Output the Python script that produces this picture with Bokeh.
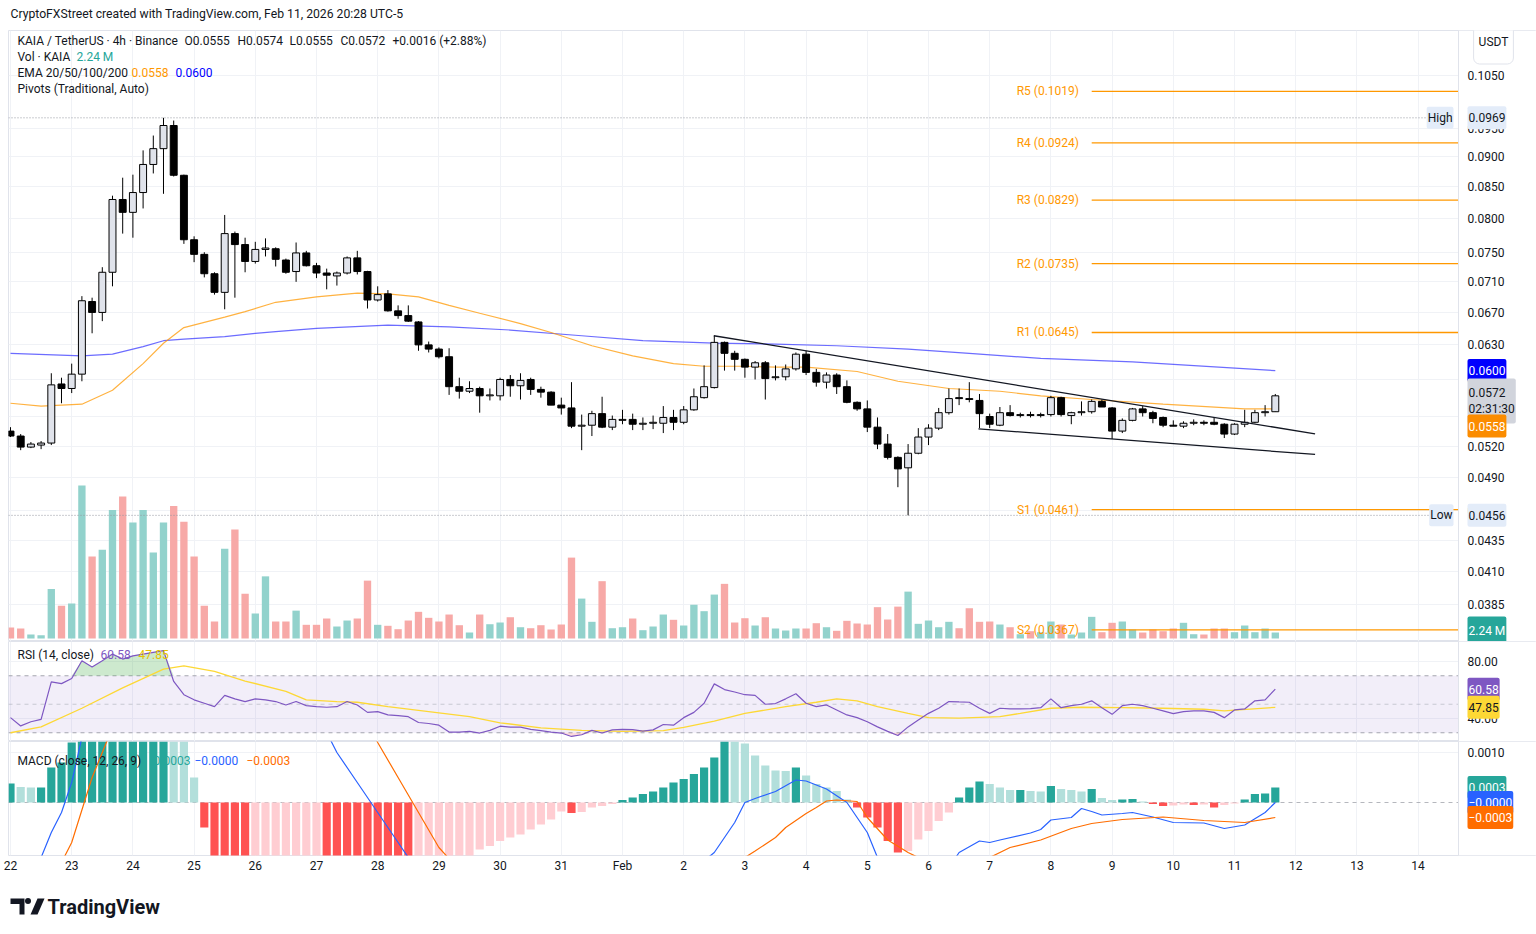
import math
from bokeh.plotting import figure
from bokeh.layouts import column
from bokeh.models import (Range1d, LinearScale, FixedTicker, Label, Span, BoxAnnotation)
from bokeh.embed import file_html
from bokeh.resources import INLINE
from bokeh.core.properties import value

FONT = "Roboto"
TXT = "#131722"

# ---------------- data ----------------
bar_index = list(range(125))
opens = [
    0.0535, 0.0530, 0.0519, 0.0521, 0.0523, 0.0585, 0.0580, 0.0596, 0.0684, 0.0670,
    0.0723, 0.0830, 0.0810, 0.0841, 0.0887, 0.0914, 0.0955, 0.0869, 0.0769, 0.0748,
    0.0721, 0.0696, 0.0778, 0.0762, 0.0738, 0.0755, 0.0756, 0.0740, 0.0724, 0.0750,
    0.0732, 0.0722, 0.0718, 0.0722, 0.0743, 0.0724, 0.0686, 0.0694, 0.0672, 0.0666,
    0.0658, 0.0630, 0.0625, 0.0616, 0.0582, 0.0577, 0.0580, 0.0572, 0.0572, 0.0590,
    0.0583, 0.0590, 0.0579, 0.0576, 0.0562, 0.0559, 0.0540, 0.0541, 0.0553, 0.0539,
    0.0546, 0.0547, 0.0542, 0.0543, 0.0543, 0.0549, 0.0544, 0.0557, 0.0570, 0.0581,
    0.0633, 0.0620, 0.0613, 0.0604, 0.0609, 0.0592, 0.0593, 0.0602, 0.0619, 0.0598,
    0.0587, 0.0595, 0.0582, 0.0565, 0.0558, 0.0539, 0.0522, 0.0509, 0.0499, 0.0513,
    0.0529, 0.0538, 0.0554, 0.0570, 0.0569, 0.0567, 0.0550, 0.0541, 0.0554, 0.0551,
    0.0552, 0.0551, 0.0552, 0.0570, 0.0551, 0.0554, 0.0555, 0.0566, 0.0559, 0.0535,
    0.0546, 0.0558, 0.0554, 0.0549, 0.0541, 0.0540, 0.0543, 0.0544, 0.0544, 0.0542,
    0.0532, 0.0542, 0.0544, 0.0554, 0.0555]
highs = [
    0.0539, 0.0532, 0.0524, 0.0525, 0.0597, 0.0592, 0.0608, 0.0691, 0.0689, 0.0730,
    0.0836, 0.0865, 0.0870, 0.0911, 0.0937, 0.0969, 0.0964, 0.0870, 0.0774, 0.0751,
    0.0723, 0.0806, 0.0781, 0.0772, 0.0766, 0.0771, 0.0758, 0.0742, 0.0765, 0.0753,
    0.0736, 0.0728, 0.0724, 0.0745, 0.0753, 0.0725, 0.0704, 0.0699, 0.0679, 0.0679,
    0.0659, 0.0634, 0.0627, 0.0626, 0.0592, 0.0588, 0.0582, 0.0580, 0.0592, 0.0595,
    0.0597, 0.0592, 0.0582, 0.0577, 0.0570, 0.0587, 0.0552, 0.0556, 0.0571, 0.0551,
    0.0557, 0.0553, 0.0549, 0.0551, 0.0561, 0.0557, 0.0561, 0.0580, 0.0606, 0.0641,
    0.0634, 0.0623, 0.0614, 0.0611, 0.0611, 0.0606, 0.0607, 0.0621, 0.0623, 0.0602,
    0.0598, 0.0597, 0.0589, 0.0566, 0.0567, 0.0549, 0.0532, 0.0510, 0.0522, 0.0538,
    0.0542, 0.0559, 0.0580, 0.0580, 0.0587, 0.0574, 0.0553, 0.0560, 0.0562, 0.0554,
    0.0555, 0.0554, 0.0572, 0.0571, 0.0555, 0.0566, 0.0568, 0.0568, 0.0560, 0.0548,
    0.0559, 0.0561, 0.0556, 0.0550, 0.0546, 0.0545, 0.0547, 0.0546, 0.0549, 0.0543,
    0.0543, 0.0557, 0.0557, 0.0562, 0.0574]
lows = [
    0.0529, 0.0516, 0.0518, 0.0517, 0.0521, 0.0564, 0.0575, 0.0588, 0.0644, 0.0659,
    0.0704, 0.0778, 0.0772, 0.0816, 0.0872, 0.0839, 0.0867, 0.0763, 0.0737, 0.0716,
    0.0693, 0.0674, 0.0689, 0.0723, 0.0735, 0.0745, 0.0731, 0.0721, 0.0710, 0.0731,
    0.0715, 0.0700, 0.0705, 0.0720, 0.0720, 0.0675, 0.0684, 0.0671, 0.0662, 0.0658,
    0.0623, 0.0621, 0.0614, 0.0573, 0.0569, 0.0575, 0.0554, 0.0567, 0.0567, 0.0571,
    0.0568, 0.0573, 0.0570, 0.0562, 0.0552, 0.0538, 0.0516, 0.0530, 0.0538, 0.0536,
    0.0542, 0.0536, 0.0536, 0.0537, 0.0533, 0.0536, 0.0542, 0.0556, 0.0569, 0.0580,
    0.0600, 0.0600, 0.0592, 0.0590, 0.0568, 0.0589, 0.0589, 0.0600, 0.0595, 0.0582,
    0.0580, 0.0574, 0.0564, 0.0556, 0.0534, 0.0517, 0.0507, 0.0481, 0.0456, 0.0512,
    0.0521, 0.0536, 0.0552, 0.0562, 0.0565, 0.0538, 0.0538, 0.0540, 0.0550, 0.0549,
    0.0549, 0.0549, 0.0550, 0.0550, 0.0542, 0.0551, 0.0553, 0.0560, 0.0527, 0.0533,
    0.0545, 0.0550, 0.0543, 0.0539, 0.0540, 0.0538, 0.0541, 0.0541, 0.0541, 0.0528,
    0.0531, 0.0539, 0.0543, 0.0550, 0.0555]
closes = [
    0.0530, 0.0519, 0.0522, 0.0523, 0.0584, 0.0580, 0.0596, 0.0685, 0.0670, 0.0723,
    0.0830, 0.0810, 0.0841, 0.0887, 0.0914, 0.0955, 0.0869, 0.0769, 0.0748, 0.0721,
    0.0696, 0.0778, 0.0762, 0.0738, 0.0755, 0.0757, 0.0741, 0.0723, 0.0750, 0.0732,
    0.0722, 0.0719, 0.0722, 0.0743, 0.0724, 0.0686, 0.0693, 0.0672, 0.0666, 0.0659,
    0.0630, 0.0625, 0.0616, 0.0582, 0.0577, 0.0580, 0.0572, 0.0573, 0.0590, 0.0583,
    0.0589, 0.0579, 0.0576, 0.0562, 0.0559, 0.0540, 0.0541, 0.0553, 0.0539, 0.0547,
    0.0547, 0.0542, 0.0543, 0.0544, 0.0549, 0.0544, 0.0557, 0.0571, 0.0582, 0.0633,
    0.0620, 0.0613, 0.0604, 0.0609, 0.0591, 0.0593, 0.0602, 0.0619, 0.0598, 0.0587,
    0.0595, 0.0582, 0.0565, 0.0558, 0.0539, 0.0522, 0.0509, 0.0498, 0.0513, 0.0529,
    0.0538, 0.0554, 0.0569, 0.0569, 0.0568, 0.0553, 0.0542, 0.0554, 0.0551, 0.0552,
    0.0551, 0.0552, 0.0570, 0.0552, 0.0554, 0.0555, 0.0566, 0.0560, 0.0535, 0.0546,
    0.0558, 0.0554, 0.0548, 0.0541, 0.0540, 0.0543, 0.0544, 0.0543, 0.0542, 0.0532,
    0.0542, 0.0544, 0.0554, 0.0555, 0.0572]
volume_m = [
    4.10, 3.73, 1.49, 1.23, 18.5, 12.2, 13.1, 57.1, 30.6, 33.1,
    48.0, 53.0, 43.3, 48.0, 32.1, 43.3, 49.5, 43.6, 30.6, 12.2,
    6.34, 33.5, 40.7, 16.7, 9.33, 23.2, 6.34, 6.34, 10.4, 5.11,
    5.11, 7.46, 4.48, 6.71, 7.46, 21.6, 5.11, 4.74, 3.47, 6.71,
    9.96, 7.72, 6.34, 8.95, 4.96, 2.24, 8.95, 5.33, 5.97, 7.94,
    4.21, 3.84, 4.96, 3.36, 5.22, 30.2, 14.9, 6.23, 21.4, 3.84,
    4.21, 7.46, 3.10, 4.48, 8.95, 6.98, 4.85, 12.6, 10.2, 16.4,
    20.4, 5.97, 7.57, 4.85, 7.94, 3.73, 2.98, 3.73, 3.73, 5.71,
    4.21, 2.87, 6.60, 5.60, 5.22, 11.7, 7.09, 11.9, 17.5, 5.48,
    6.71, 4.21, 6.23, 3.84, 11.3, 6.23, 6.34, 5.22, 4.21, 1.60,
    2.72, 2.35, 6.34, 5.22, 1.49, 2.24, 8.09, 2.35, 5.86, 6.34,
    3.36, 2.24, 3.36, 2.72, 3.73, 5.86, 1.60, 1.49, 3.73, 3.73,
    2.35, 4.85, 2.35, 3.73, 2.24]

ema50_idx = [0, 3, 7, 10, 13, 15, 17, 21, 23, 26, 30, 34, 37, 40, 43, 46, 50, 53, 57,
             61, 65, 68, 72, 75, 78, 83, 87, 92, 97, 101, 106, 113, 121, 124]
ema50 = [0.0564, 0.0561, 0.0563, 0.0578, 0.0608, 0.0632, 0.0651, 0.0664, 0.0671, 0.0683,
         0.0690, 0.0695, 0.0694, 0.0690, 0.0679, 0.0669, 0.0656, 0.0645, 0.0629, 0.0617,
         0.0608, 0.0605, 0.0605, 0.0604, 0.0604, 0.0599, 0.0588, 0.0580, 0.0577, 0.0572,
         0.0568, 0.0563, 0.0558, 0.0558]
ema200_idx = [0, 7, 10, 13, 15, 17, 21, 24, 26, 30, 37, 43, 49, 56, 62, 69, 75, 81, 88,
              94, 101, 110, 124]
ema200 = [0.0620, 0.0617, 0.0619, 0.0628, 0.0635, 0.0637, 0.0640, 0.0644, 0.0646, 0.0650,
          0.0654, 0.0652, 0.0648, 0.0641, 0.0635, 0.0632, 0.0631, 0.0629, 0.0625, 0.0620,
          0.0614, 0.0610, 0.0600]

pivot_names = ["R5", "R4", "R3", "R2", "R1", "S1", "S2"]
pivot_values = [0.1019, 0.0924, 0.0829, 0.0735, 0.0645, 0.0461, 0.0367]
pivot_start = 106
high_value = 0.0969
low_value = 0.0456
last_close = 0.0572
ema50_last = 0.0558
ema200_last = 0.0600
vol_last = 2.24
trend_upper_x = [68.95, 127.9]
trend_upper_y = [0.0641, 0.05322]
trend_lower_x = [94.9, 127.9]
trend_lower_y = [0.05373, 0.05118]

rsi = [40.6, 34.8, 37.7, 39.4, 65.7, 64.5, 68.1, 80.5, 76.2, 80.5,
       85.2, 81.7, 84.0, 85.2, 86.4, 87.6, 66.0, 56.7, 53.1, 50.7,
       48.3, 56.2, 53.8, 51.9, 53.8, 53.1, 51.9, 49.5, 51.9, 49.0,
       48.3, 47.9, 48.3, 51.9, 49.5, 44.3, 44.8, 42.5, 42.0, 41.3,
       37.2, 36.5, 35.3, 30.5, 30.5, 31.0, 29.8, 31.7, 34.6, 33.9,
       33.9, 32.4, 31.5, 30.5, 29.8, 27.4, 28.6, 31.7, 29.8, 32.0,
       32.4, 32.2, 31.2, 32.0, 35.8, 35.3, 40.6, 44.3, 50.7, 64.3,
       60.3, 58.6, 56.7, 56.2, 50.0, 50.5, 53.8, 57.4, 50.7, 48.3,
       49.5, 46.0, 42.5, 40.6, 37.7, 34.1, 31.0, 28.1, 34.1, 38.9,
       43.6, 47.2, 51.9, 51.6, 51.4, 47.2, 43.6, 47.2, 46.7, 46.7,
       47.0, 47.6, 53.8, 47.6, 49.0, 50.0, 52.4, 47.6, 42.9, 49.0,
       50.0, 49.0, 47.2, 45.3, 43.4, 44.8, 45.3, 45.3, 44.3, 40.6,
       46.0, 46.7, 52.4, 53.1, 60.58]
rsi_ma_idx = [0, 3, 7, 11, 15, 17, 20, 23, 27, 29, 32, 34, 37, 41, 45, 48, 52, 56, 60, 64,
              66, 69, 72, 76, 79, 81, 83, 85, 88, 90, 93, 97, 99, 102, 105, 109, 113, 117,
              119, 124]
rsi_ma = [30.0, 34.1, 47.2, 61.5, 74.6, 77.0, 73.0, 66.3, 59.1, 53.1, 51.9, 51.4, 48.3,
          44.8, 41.3, 37.0, 33.4, 31.7, 31.0, 31.5, 33.7, 38.2, 43.6, 48.3, 51.4, 53.8,
          52.4, 48.3, 43.6, 40.6, 40.3, 41.3, 43.6, 47.2, 47.9, 47.6, 47.2, 46.5, 45.3, 47.85]

macd_idx = [0, 2, 3, 4, 5, 6, 7, 9, 11, 15, 20, 26, 30, 32, 34, 36, 38, 39, 42, 48, 55, 62,
            66, 69, 70, 71, 72, 73, 75, 77, 78, 80, 82, 83, 84, 85, 87, 90, 92, 93, 95, 96,
            97, 100, 101, 102, 104, 105, 106, 107, 109, 110, 112, 114, 117, 119, 121, 123, 124]
macd = [-0.0016, -0.0015, -0.0011, -0.0006, -0.0002, 0.0004, 0.0013, 0.0024, 0.0040, 0.0062,
        0.0058, 0.0036, 0.0018, 0.0010, 0.0004, -0.0002, -0.0008, -0.0011, -0.0020, -0.0030,
        -0.0031, -0.0022, -0.0015, -0.0010, -0.0007, -0.0004, 0.0, 0.00008, 0.00022, 0.00045,
        0.00043, 0.00027, 0.0, -0.0003, -0.0006, -0.0011, -0.0016, -0.0017, -0.0013, -0.0010,
        -0.00077, -0.00080, -0.00075, -0.00061, -0.00054, -0.00035, -0.00030, -0.00012,
        -0.00018, -0.00025, -0.00022, -0.00020, -0.00029, -0.00040, -0.00041, -0.00052,
        -0.00045, -0.00020, 0.0]
signal_idx = [0, 3, 5, 6, 8, 9, 10, 12, 16, 22, 28, 33, 36, 38, 40, 42, 46, 55, 62, 68, 72,
              73, 75, 76, 78, 79, 80, 81, 83, 84, 86, 88, 90, 93, 96, 98, 101, 104, 106, 109,
              113, 117, 121, 124]
signal = [-0.0030, -0.0022, -0.0012, -0.0008, 0.0005, 0.0010, 0.0015, 0.0024, 0.0040, 0.0048,
          0.0040, 0.0024, 0.0012, 0.0005, -0.0002, -0.0009, -0.0018, -0.0028, -0.0025, -0.0017,
          -0.0011, -0.00097, -0.0007, -0.0005, -0.00022, -0.0001, 0.00003, 0.00005, 0.00002,
          -0.0003, -0.00075, -0.0010, -0.0012, -0.0012, -0.0011, -0.0009, -0.00075, -0.00052,
          -0.00042, -0.00034, -0.00029, -0.00036, -0.00040, -0.00030]
hist = [0.00038, 0.00031, 0.00030, 0.00030, 0.00070, 0.00080, 0.0012, 0.0016, 0.0019, 0.0022,
        0.0026, 0.0028, 0.0030, 0.0032, 0.0034, 0.0035, 0.0028, 0.0015, 0.0005, -0.0005,
        -0.0013, -0.0019, -0.0024, -0.0028, -0.0027, -0.0026, -0.0025, -0.0024, -0.0023, -0.0022,
        -0.0021, -0.0023, -0.0025, -0.0027, -0.0029, -0.0031, -0.0033, -0.0034, -0.0035, -0.0036,
        -0.0033, -0.0029, -0.0025, -0.0020, -0.0016, -0.0012, -0.00094, -0.00087, -0.00077, -0.00070,
        -0.00064, -0.00054, -0.00044, -0.00034, -0.00018, -0.00021, -0.00019, -0.00010, -0.00007, -0.00003,
        0.00005, 0.00010, 0.00017, 0.00022, 0.00030, 0.00040, 0.00047, 0.00057, 0.00070, 0.00090,
        0.00125, 0.00122, 0.00118, 0.00094, 0.00074, 0.00064, 0.00063, 0.00070, 0.00054, 0.00037,
        0.00030, 0.00023, 0.00006, -0.00010, -0.00030, -0.00050, -0.00077, -0.00100, -0.00097, -0.00074,
        -0.00057, -0.00037, -0.00020, 0.00010, 0.00030, 0.00042, 0.00037, 0.00030, 0.00025, 0.00025,
        0.00023, 0.00022, 0.00033, 0.00027, 0.00025, 0.00022, 0.00027, 0.00009, 0.00005, 0.00006,
        0.00007, 0.00002, -0.00003, -0.00007, -0.00006, -0.00004, -0.00005, -0.00004, -0.00010, -0.00005,
        -0.00002, 0.00006, 0.00017, 0.00018, 0.00030]
rsi_last = 60.58
rsi_ma_last = 47.85
macd_last_hist = 0.0003
macd_last = 0.0
signal_last = -0.0003

day_ticks = list(range(0, 139, 6))
day_labels = ["22", "23", "24", "25", "26", "27", "28", "29", "30", "31", "Feb", "2", "3",
              "4", "5", "6", "7", "8", "9", "10", "11", "12", "13", "14"]
price_ticks = [0.0385, 0.0410, 0.0435, 0.0460, 0.0490, 0.0520, 0.0590, 0.0630, 0.0670,
               0.0710, 0.0750, 0.0800, 0.0850, 0.0900, 0.0950, 0.1050]
price_grid = price_ticks + [0.0550]
rsi_ticks = [40, 80]
macd_ticks = [0.0010]

# ---------------- layout geometry (page pixels) ----------------
PX_LEFT, BAR_PX = 8.0, 10.2
X_START = -0.196


def ix(px):
    return X_START + (px - PX_LEFT) / BAR_PX


X_END = ix(1458)      # right edge of the chart panes
X_RIGHT = ix(1536)    # right edge of the price-scale column
P_TOP, P_BOT = 0.11435, 0.035899
LT, LB = math.log(P_TOP), math.log(P_BOT)


def py(px):  # price frame spans page y 30..641
    return math.exp(LT - (px - 30) / 611.0 * (LT - LB))


R_TOP, R_BOT = 94.04, 23.86


def ry(px):  # rsi frame 641..741
    return R_TOP - (px - 641) / 100.0 * (R_TOP - R_BOT)


M_TOP, M_BOT = 0.00122, -0.00106


def my(px):  # macd frame 741..855
    return M_TOP - (px - 741) / 114.0 * (M_TOP - M_BOT)


GRID = "#f0f2f6"
BORDER = "#e0e3eb"
xr = Range1d(X_START, X_RIGHT)


def pane(frame_h, yr, ytype="linear", bottom=0):
    p = figure(frame_width=1528, frame_height=frame_h, x_range=xr, y_range=yr,
               y_axis_type=ytype, y_axis_location=None,
               x_axis_location="below" if bottom else None, toolbar_location=None,
               output_backend="svg", min_border_left=8, min_border_right=0,
               min_border_top=0, min_border_bottom=bottom)
    p.background_fill_color = "white"
    p.border_fill_color = "white"
    p.outline_line_color = BORDER
    p.xgrid.ticker = FixedTicker(ticks=day_ticks)
    p.xgrid.grid_line_color = GRID
    p.ygrid.grid_line_color = GRID
    return p


def strip(y_top, y_bot):
    # a plain strip whose frame lines up with the panes; data units = page pixels
    p = figure(frame_width=1528, frame_height=y_bot - y_top, x_range=Range1d(8, 1536),
               y_range=Range1d(y_bot, y_top), toolbar_location=None, output_backend="svg",
               min_border_left=8, min_border_right=0, min_border_top=0, min_border_bottom=0,
               x_axis_location=None, y_axis_location=None)
    p.outline_line_color = None
    p.xgrid.visible = False
    p.ygrid.visible = False
    return p


def scale_column(p, yb, yt):
    # white price-scale column to the right of the pane, with its separator
    p.quad(left=[X_END], right=[X_RIGHT], bottom=[yb], top=[yt], fill_color="white",
           line_color=None)
    p.add_layout(Span(location=X_END, dimension="height", line_color=BORDER, line_width=1))


def tick_text(p, ticks, labels):
    p.text(x=[ix(1467)] * len(ticks), y=ticks, text=labels, text_align="left",
           text_baseline="middle", text_color=TXT, text_font=value(FONT),
           text_font_size="12px")


def lab(p, xpx, y, text, color=TXT, bg=None, align="left", size="12px", bold=False,
        pad=None, radius=0, border=None, rname="default"):
    kw = dict(x=ix(xpx), y=y, text=text, text_color=color, text_align=align,
              text_baseline="middle", text_font=FONT, text_font_size=size,
              text_font_style="bold" if bold else "normal", y_range_name=rname)
    if bg is not None:
        kw.update(background_fill_color=bg, background_fill_alpha=1.0)
    if pad is not None:
        kw.update(padding=pad)
    if radius:
        kw.update(border_radius=radius)
    if border is not None:
        kw.update(border_line_color=border)
    p.add_layout(Label(**kw))


TAG = (1, 7)
TX = 1467
HS = "12px"

# ---------------- header strip ----------------
p0 = strip(0, 30)
p0.text(x=[10], y=[13], text=["CryptoFXStreet created with TradingView.com, Feb 11, 2026 20:28 UTC-5"],
        text_font=value(FONT), text_font_size="12.2px", text_color=TXT, text_baseline="middle")

# ---------------- price + volume pane ----------------
p1 = pane(611, Range1d(P_BOT, P_TOP), ytype="log")
p1.ygrid.ticker = FixedTicker(ticks=price_grid)
p1.extra_y_ranges = {"vol": Range1d(-1.12, 226.97)}
p1.extra_y_scales = {"vol": LinearScale()}
scale_column(p1, P_BOT, P_TOP)

up = [c >= o for o, c in zip(opens, closes)]
vol_colors = ["#92d2cc" if u else "#f7a9a7" for u in up]
p1.vbar(x=bar_index, top=volume_m, bottom=0, width=0.72, fill_color=vol_colors,
        line_color=None, y_range_name="vol")

# pivots
p1.segment(x0=[pivot_start] * len(pivot_values), x1=[X_END] * len(pivot_values),
           y0=pivot_values, y1=pivot_values, line_color="#ff9800", line_width=1.3)
p1.text(x=[pivot_start - 1.25] * len(pivot_values), y=pivot_values,
        text=["%s (%.4f)" % (n, v) for n, v in zip(pivot_names, pivot_values)],
        text_align="right", text_baseline="middle", text_color="#ff9800",
        text_font=value(FONT), text_font_size="12px")

# high / low dotted lines
p1.segment(x0=[X_START, X_START], x1=[ix(1428), ix(1428)], y0=[high_value, low_value],
           y1=[high_value, low_value], line_color="#9598a1", line_dash="1 2", line_width=1)

# EMAs
p1.line(ema200_idx, ema200, line_color="#3b3bff", line_alpha=0.75, line_width=1.2)
p1.line(ema50_idx, ema50, line_color="#ff9800", line_alpha=0.75, line_width=1.2)

# candles
p1.segment(x0=bar_index, x1=bar_index, y0=lows, y1=highs, line_color="#000000", line_width=1)
body_top = [max(o, c) for o, c in zip(opens, closes)]
body_bot = [min(o, c) for o, c in zip(opens, closes)]
p1.vbar(x=bar_index, top=body_top, bottom=body_bot, width=0.68,
        fill_color=["#e0e3eb" if u else "#000000" for u in up], line_color="#000000",
        line_width=1)

# trend lines
p1.line(trend_upper_x, trend_upper_y, line_color="#131722", line_width=1.3)
p1.line(trend_lower_x, trend_lower_y, line_color="#131722", line_width=1.3)

# price scale tick labels
tick_text(p1, price_ticks, ["%.4f" % t for t in price_ticks])

# legend texts
lab(p1, 17, py(40), "KAIA / TetherUS · 4h · Binance", size=HS)
lab(p1, 184, py(40), "O0.0555", size=HS)
lab(p1, 237, py(40), "H0.0574", size=HS)
lab(p1, 289, py(40), "L0.0555", size=HS)
lab(p1, 340, py(40), "C0.0572", size=HS)
lab(p1, 392, py(40), "+0.0016 (+2.88%)", size=HS)
lab(p1, 17, py(56), "Vol · KAIA", size=HS)
lab(p1, 76, py(56), "2.24 M", color="#26a69a", size=HS)
lab(p1, 17, py(72), "EMA 20/50/100/200", size=HS)
lab(p1, 131, py(72), "0.0558", color="#ff9800", size=HS)
lab(p1, 175, py(72), "0.0600", color="#0000ff", size=HS)
lab(p1, 17, py(88), "Pivots (Traditional, Auto)", size=HS)

# High / Low tags and price scale tags
lab(p1, 1453, high_value, "High", bg="#e3ecf9", align="right", pad=(1, 4), radius=2)
lab(p1, 1453, low_value, "Low", bg="#e3ecf9", align="right", pad=(1, 4), radius=2)
lab(p1, TX, high_value, "%.4f" % high_value, bg="#e3ecf9", pad=TAG, radius=2)
lab(p1, TX, low_value, "%.4f" % low_value, bg="#e3ecf9", pad=TAG, radius=2)
lab(p1, TX, ema200_last, "%.4f" % ema200_last, color="white", bg="#0000ff", pad=TAG, radius=2)
lab(p1, TX, py(400.5), "%.4f\n02:31:30" % last_close, bg="#d1d4dc", pad=(1, 7), radius=2)
lab(p1, TX, py(425.5), "%.4f" % ema50_last, color="white", bg="#fb8c00", pad=TAG, radius=2)
lab(p1, TX, py(630), "%.2f M" % vol_last, color="white", bg="#26a69a", pad=TAG, radius=2)
lab(p1, 1493, py(41.5), "USDT", align="center", bg="white", pad=(5, 15), radius=6, border=BORDER)

# ---------------- RSI pane ----------------
p2 = pane(100, Range1d(R_BOT, R_TOP))
p2.ygrid.ticker = FixedTicker(ticks=rsi_ticks)
scale_column(p2, R_BOT, R_TOP)
p2.add_layout(BoxAnnotation(left=X_START, right=X_END, bottom=30, top=70,
                            fill_color="#7e57c2", fill_alpha=0.1, line_color=None,
                            level="underlay"))
p2.segment(x0=[X_START] * 3, x1=[X_END] * 3, y0=[70, 50, 30], y1=[70, 50, 30],
           line_color="#9598a1", line_dash="4 4", line_alpha=[0.85, 0.45, 0.85], line_width=1)
p2.varea(x=bar_index, y1=[70] * len(rsi), y2=[max(v, 70) for v in rsi],
         fill_color="#4caf50", fill_alpha=0.28)
p2.varea(x=bar_index, y1=[30] * len(rsi), y2=[min(v, 30) for v in rsi],
         fill_color="#f23645", fill_alpha=0.18)
p2.line(rsi_ma_idx, rsi_ma, line_color="#fdd835", line_width=1.3)
p2.line(bar_index, rsi, line_color="#7e57c2", line_width=1.2)
tick_text(p2, rsi_ticks, ["%.2f" % t for t in rsi_ticks])
lab(p2, 17, ry(654), "RSI (14, close)", size=HS)
lab(p2, 100, ry(654), "%.2f" % rsi_last, color="#7e57c2", size=HS)
lab(p2, 138, ry(654), "%.2f" % rsi_ma_last, color="#e6c200", size=HS)
lab(p2, TX, rsi_last, "%.2f" % rsi_last, color="white", bg="#7e57c2", pad=TAG, radius=2)
lab(p2, TX, rsi_ma_last, "%.2f" % rsi_ma_last, color=TXT, bg="#fdd835", pad=TAG, radius=2)

# ---------------- MACD pane ----------------
p3 = pane(114, Range1d(M_BOT, M_TOP), bottom=22)
p3.ygrid.ticker = FixedTicker(ticks=macd_ticks)
scale_column(p3, M_BOT, M_TOP)
xa = p3.xaxis[0]
xa.ticker = FixedTicker(ticks=day_ticks)
xa.major_label_overrides = {t: s for t, s in zip(day_ticks, day_labels)}
xa.axis_line_color = None
xa.major_tick_line_color = None
xa.minor_tick_line_color = None
xa.major_tick_out = 0
xa.major_tick_in = 0
xa.minor_tick_out = 0
xa.minor_tick_in = 0
xa.major_label_text_font = FONT
xa.major_label_text_font_size = "12px"
xa.major_label_text_color = TXT
xa.major_label_standoff = 3

hist_colors = []
prev = None
for h in hist:
    if h >= 0:
        hist_colors.append("#26a69a" if (prev is None or h >= prev) else "#b2dfdb")
    else:
        hist_colors.append("#ff5252" if (prev is not None and h < prev) else "#ffcdd2")
    prev = h
p3.segment(x0=[X_START], x1=[X_END], y0=[0], y1=[0], line_color="#9598a1",
           line_dash="4 4", line_alpha=0.7, line_width=1)
p3.vbar(x=bar_index, top=hist, bottom=0, width=0.8, fill_color=hist_colors, line_color=None)
p3.line(macd_idx, macd, line_color="#2962ff", line_width=1.2)
p3.line(signal_idx, signal, line_color="#ff6d00", line_width=1.2)
tick_text(p3, macd_ticks, ["%.4f" % t for t in macd_ticks])
lab(p3, 17, my(760), "MACD (close, 12, 26, 9)", size=HS)
lab(p3, 153, my(760), "%.4f" % macd_last_hist, color="#26a69a", size=HS)
lab(p3, 194, my(760), "\u22120.0000", color="#2962ff", size=HS)
lab(p3, 246, my(760), "\u22120.0003", color="#ff6d00", size=HS)
lab(p3, TX, macd_last_hist, "%.4f" % macd_last_hist, color="white", bg="#26a69a", pad=TAG, radius=2)
lab(p3, TX, macd_last, "\u22120.0000", color="white", bg="#2962ff", pad=TAG, radius=2)
lab(p3, TX, signal_last, "\u22120.0003", color="white", bg="#ff6d00", pad=TAG, radius=2)

# ---------------- footer (logo) ----------------
p4 = strip(877, 922)
p4.patches(xs=[[10, 24, 24, 19, 19, 10], [30, 37, 44, 37]],
           ys=[[898, 898, 914, 914, 903.5, 903.5], [914, 898, 898, 914]],
           fill_color="#131722", line_color=None)
p4.scatter(x=[27.5], y=[900.5], size=6, marker="circle", fill_color="#131722",
           line_color=None)
p4.text(x=[47], y=[906], text=["TradingView"], text_font=value(FONT),
        text_font_size="20px", text_font_style="bold", text_color="#131722",
        text_baseline="middle")

layout = column(p0, p1, p2, p3, p4, spacing=0)
open("out.html", "w").write(file_html(layout, INLINE))
